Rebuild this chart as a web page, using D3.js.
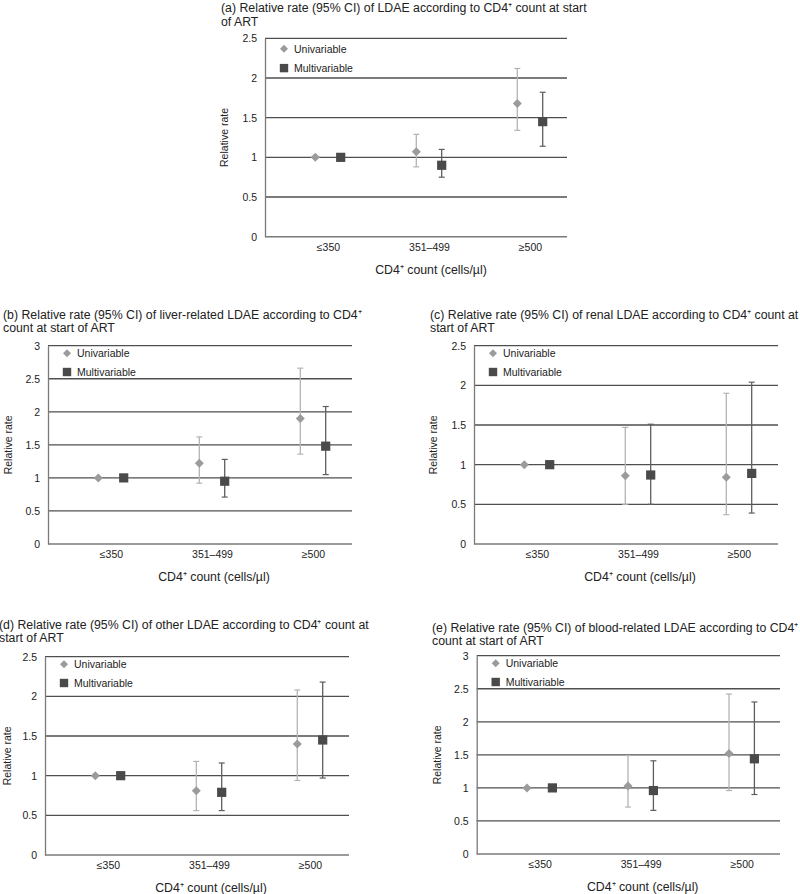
<!DOCTYPE html>
<html>
<head>
<meta charset="utf-8">
<script src="https://cdn.jsdelivr.net/npm/d3@7"></script>
<style>
  body { margin: 0; background: #fff; }
  svg { display: block; font-family: "Liberation Sans", Arial, sans-serif; }
</style>
</head>
<body>
<svg id="chart" width="800" height="894"></svg>
<script>
// ---------------- DATA ----------------
const categories = ["≤350", "351–499", "≥500"];
const seriesNames = ["Univariable", "Multivariable"];
const xAxisTitle = "CD4⁺ count (cells/µl)";
const yAxisTitle = "Relative rate";

const titlesA = ["(a) Relative rate (95% CI) of LDAE according to CD4⁺ count at start", "of ART"];
const titlesB = ["(b) Relative rate (95% CI) of liver-related LDAE according to CD4⁺", "count at start of ART"];
const titlesC = ["(c) Relative rate (95% CI) of renal LDAE according to CD4⁺ count at", "start of ART"];
const titlesD = ["(d) Relative rate (95% CI) of other LDAE according to CD4⁺ count at", "start of ART"];
const titlesE = ["(e) Relative rate (95% CI) of blood-related LDAE according to CD4⁺", "count at start of ART"];

// estimate, lower, upper per category
const uniEstA = [1.00, 1.07, 1.68], uniLoA = [1.00, 0.88, 1.34], uniHiA = [1.00, 1.29, 2.12];
const mulEstA = [1.00, 0.90, 1.45], mulLoA = [1.00, 0.75, 1.14], mulHiA = [1.00, 1.10, 1.82];

const uniEstB = [1.00, 1.22, 1.90], uniLoB = [1.00, 0.92, 1.36], uniHiB = [1.00, 1.62, 2.66];
const mulEstB = [1.00, 0.95, 1.48], mulLoB = [1.00, 0.71, 1.05], mulHiB = [1.00, 1.28, 2.08];

const uniEstC = [1.00, 0.86, 0.84], uniLoC = [1.00, 0.50, 0.37], uniHiC = [1.00, 1.47, 1.90];
const mulEstC = [1.00, 0.87, 0.89], mulLoC = [1.00, 0.50, 0.39], mulHiC = [1.00, 1.51, 2.04];

const uniEstD = [1.00, 0.81, 1.40], uniLoD = [1.00, 0.56, 0.94], uniHiD = [1.00, 1.18, 2.08];
const mulEstD = [1.00, 0.79, 1.45], mulLoD = [1.00, 0.56, 0.97], mulHiD = [1.00, 1.16, 2.18];

const uniEstE = [1.00, 1.03, 1.52], uniLoE = [1.00, 0.71, 0.96], uniHiE = [1.00, 1.49, 2.42];
const mulEstE = [1.00, 0.96, 1.44], mulLoE = [1.00, 0.66, 0.90], mulHiE = [1.00, 1.41, 2.30];

const ticks25 = [0, 0.5, 1, 1.5, 2, 2.5];
const ticks3 = [0, 0.5, 1, 1.5, 2, 2.5, 3];

// ---------------- LAYOUT ----------------
const panels = [
  { titles: titlesA, ticks: ticks25, ax: 265, top: 38.3, bottom: 236.7, right: 567, tx: 221, ty: 12, ly: 224, leg: [10.4, 29.8],
    uni: [uniEstA, uniLoA, uniHiA], mul: [mulEstA, mulLoA, mulHiA] },
  { titles: titlesB, ticks: ticks3, ax: 48, top: 345.7, bottom: 544, right: 352, tx: 3, ty: 318.5, ly: 8, leg: [7.6, 26.3],
    uni: [uniEstB, uniLoB, uniHiB], mul: [mulEstB, mulLoB, mulHiB] },
  { titles: titlesC, ticks: ticks25, ax: 474, top: 345.7, bottom: 544, right: 778, tx: 430, ty: 318.5, ly: 433, leg: [7.6, 26.3],
    uni: [uniEstC, uniLoC, uniHiC], mul: [mulEstC, mulLoC, mulHiC] },
  { titles: titlesD, ticks: ticks25, ax: 45, top: 656.7, bottom: 855, right: 349, tx: -1, ty: 628.5, ly: 7, leg: [7.6, 26.3],
    uni: [uniEstD, uniLoD, uniHiD], mul: [mulEstD, mulLoD, mulHiD] },
  { titles: titlesE, ticks: ticks3, ax: 476.7, top: 655.7, bottom: 854, right: 780, tx: 432, ty: 631.5, ly: 437, leg: [7.6, 26.3],
    uni: [uniEstE, uniLoE, uniHiE], mul: [mulEstE, mulLoE, mulHiE] }
];

const svg = d3.select("#chart");
const uniMarker = "#9b9b9b", uniBar = "#b4b4b4";
const mulMarker = "#4a4a4a", mulBar = "#5e5e5e";
const gridColor = "#4f4f4f", axisColor = "#7a7a7a";
const textColor = "#222";
const offset = 12.7;
const FONT = "Liberation Sans, Arial, sans-serif";

panels.forEach(p => {
  const g = svg.append("g");
  const yMax = d3.max(p.ticks);
  const y = d3.scaleLinear().domain([0, yMax]).range([p.bottom, p.top]);
  const x = d3.scalePoint().domain(categories).range([p.ax + 63, p.ax + 265]);

  // title
  const t = g.append("text").attr("x", p.tx).attr("y", p.ty)
    .attr("font-size", 12.3).attr("fill", textColor);
  p.titles.forEach((line, i) => {
    t.append("tspan").attr("x", p.tx).attr("dy", i === 0 ? 0 : 13.8).text(line);
  });

  // gridlines
  g.append("g").selectAll("line").data(p.ticks.filter(v => v > 0)).join("line")
    .attr("x1", p.ax).attr("x2", p.right)
    .attr("y1", d => y(d)).attr("y2", d => y(d))
    .attr("stroke", gridColor).attr("stroke-width", 1.3);

  // y axis via d3.axisLeft
  const yAxis = g.append("g").attr("transform", `translate(${p.ax},0)`)
    .call(d3.axisLeft(y).tickValues(p.ticks).tickSize(0).tickPadding(8).tickFormat(d3.format("~g")));
  yAxis.select(".domain").attr("stroke", axisColor).attr("stroke-width", 1.3);
  yAxis.selectAll("text").attr("font-size", 10.5).attr("fill", textColor).attr("font-family", FONT);

  // x axis
  const xAxis = g.append("g").attr("transform", `translate(0,${p.bottom})`)
    .call(d3.axisBottom(x).tickSize(0).tickPadding(7));
  xAxis.select(".domain").remove();
  g.append("line").attr("x1", p.ax).attr("x2", p.right).attr("y1", p.bottom).attr("y2", p.bottom)
    .attr("stroke", axisColor).attr("stroke-width", 1.5);
  xAxis.selectAll("text").attr("font-size", 10.5).attr("fill", textColor).attr("font-family", FONT);

  // axis titles
  g.append("text").attr("x", x(categories[1]) + 2).attr("y", p.bottom + 37)
    .attr("text-anchor", "middle").attr("font-size", 12.3).attr("fill", textColor).text(xAxisTitle);
  g.append("text").attr("transform", `translate(${p.ly},${(p.top + p.bottom) / 2}) rotate(-90)`)
    .attr("text-anchor", "middle").attr("dominant-baseline", "central")
    .attr("font-size", 10.5).attr("fill", textColor).text(yAxisTitle);

  // series
  const series = [
    { vals: p.uni, dx: -offset, marker: uniMarker, bar: uniBar, shape: "diamond" },
    { vals: p.mul, dx: offset, marker: mulMarker, bar: mulBar, shape: "square" }
  ];
  series.forEach(s => {
    const pts = categories.map((c, i) => ({ c, est: s.vals[0][i], lo: s.vals[1][i], hi: s.vals[2][i] }));
    const sg = g.append("g");
    const bars = pts.filter(d => d.hi > d.lo);
    sg.selectAll("line.v").data(bars).join("line")
      .attr("x1", d => x(d.c) + s.dx).attr("x2", d => x(d.c) + s.dx)
      .attr("y1", d => y(d.lo)).attr("y2", d => y(d.hi))
      .attr("stroke", s.bar).attr("stroke-width", 1.3);
    ["lo", "hi"].forEach(k => {
      sg.selectAll("line.c" + k).data(bars).join("line")
        .attr("x1", d => x(d.c) + s.dx - 3).attr("x2", d => x(d.c) + s.dx + 3)
        .attr("y1", d => y(d[k])).attr("y2", d => y(d[k]))
        .attr("stroke", s.bar).attr("stroke-width", 1.2);
    });
    if (s.shape === "diamond") {
      sg.selectAll("path").data(pts).join("path")
        .attr("transform", d => `translate(${x(d.c) + s.dx},${y(d.est)})`)
        .attr("d", "M0,-4.5L4.5,0L0,4.5L-4.5,0Z").attr("fill", s.marker);
    } else {
      sg.selectAll("rect").data(pts).join("rect")
        .attr("x", d => x(d.c) + s.dx - 4.6).attr("y", d => y(d.est) - 4.6)
        .attr("width", 9.2).attr("height", 9.2).attr("fill", s.marker);
    }
  });

  // legend
  const lx = p.ax + 19, ly1 = p.top + p.leg[0], ly2 = p.top + p.leg[1];
  g.append("path").attr("transform", `translate(${lx},${ly1})`)
    .attr("d", "M0,-4L4,0L0,4L-4,0Z").attr("fill", uniMarker);
  g.append("rect").attr("x", lx - 4.2).attr("y", ly2 - 4.2).attr("width", 8.4).attr("height", 8.4).attr("fill", mulMarker);
  g.append("text").attr("x", lx + 10).attr("y", ly1).attr("dominant-baseline", "central")
    .attr("font-size", 10.5).attr("fill", textColor).text(seriesNames[0]);
  g.append("text").attr("x", lx + 10).attr("y", ly2).attr("dominant-baseline", "central")
    .attr("font-size", 10.5).attr("fill", textColor).text(seriesNames[1]);
});
</script>
</body>
</html>
